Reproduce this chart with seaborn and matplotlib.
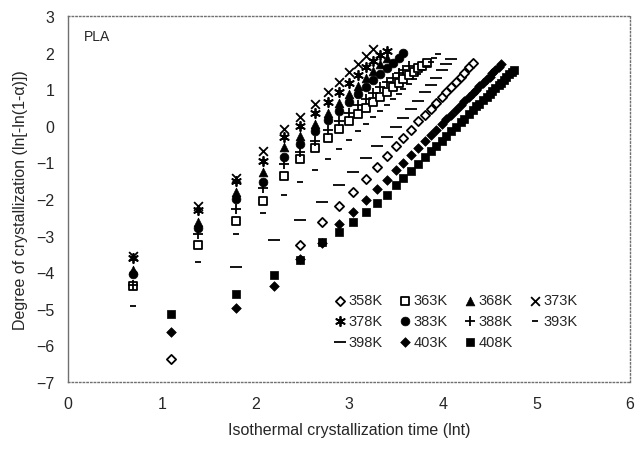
import matplotlib
matplotlib.use("Agg")
import matplotlib.pyplot as plt
import seaborn as sns

# ln(t) positions, t = 2, 4, 6 ... and t = 3, 6, 9 ...
x_even = [0.69, 1.39, 1.79, 2.08, 2.30, 2.48, 2.64, 2.77, 2.89, 3.00, 3.09, 3.18, 3.26,
          3.33, 3.40, 3.47, 3.53, 3.58, 3.64, 3.69, 3.74, 3.78, 3.83, 3.87, 3.91, 3.95]
x_three = [1.10, 1.79, 2.20, 2.48, 2.71, 2.89, 3.04, 3.18, 3.30, 3.40, 3.50, 3.58, 3.66,
           3.74, 3.81, 3.87, 3.93, 3.99, 4.04, 4.09, 4.14, 4.19, 4.23, 4.28, 4.32, 4.36,
           4.39, 4.43, 4.47, 4.50, 4.53, 4.56, 4.60, 4.62, 4.65, 4.68, 4.71, 4.74, 4.76]

y_358 = [-6.37, -3.26, -2.63, -2.18, -1.82, -1.45, -1.13, -0.82, -0.55, -0.32, -0.10, 0.12,
         0.30, 0.47, 0.63, 0.79, 0.93, 1.07, 1.20, 1.33, 1.45, 1.60, 1.73]
x_358 = [1.10] + x_three[3:25]
y_363 = [-4.38, -3.25, -2.60, -2.05, -1.37, -0.91, -0.60, -0.32, -0.08, 0.14, 0.33, 0.50,
         0.66, 0.80, 0.94, 1.06, 1.18, 1.28, 1.38, 1.48, 1.57, 1.65, 1.73]
y_368 = [-3.95, -2.62, -1.80, -1.27, -0.58, -0.28, 0.05, 0.35, 0.62, 0.88, 1.10, 1.30,
         1.50, 1.68, 1.85]
y_373 = [-3.55, -2.20, -1.42, -0.68, -0.09, 0.24, 0.60, 0.92, 1.20, 1.46, 1.68, 1.90, 2.10]
y_378 = [-3.62, -2.30, -1.50, -0.95, -0.31, 0.00, 0.35, 0.66, 0.93, 1.18, 1.40, 1.60,
         1.78, 1.93, 2.05]
y_383 = [-4.05, -2.78, -2.00, -1.54, -0.85, -0.50, -0.15, 0.15, 0.42, 0.66, 0.88, 1.07,
         1.25, 1.42, 1.57, 1.72, 1.86, 1.99]
y_388 = [-4.35, -2.95, -2.27, -1.70, -1.04, -0.72, -0.40, -0.12, 0.13, 0.36, 0.56, 0.74,
         0.90, 1.05, 1.19, 1.32, 1.44, 1.54, 1.64]
y_393 = [-4.92, -3.72, -2.96, -2.39, -1.89, -1.54, -1.20, -0.90, -0.62, -0.38, -0.15, 0.05,
         0.24, 0.41, 0.58, 0.73, 0.88, 1.02, 1.15, 1.28, 1.41, 1.53, 1.65, 1.76, 1.86, 1.96]
y_398 = [-3.86, -3.12, -2.57, -2.08, -1.62, -1.25, -0.88, -0.56, -0.30, -0.02, 0.22, 0.45,
         0.68, 0.92, 1.12, 1.32, 1.52, 1.68, 1.83]
y_403 = [-5.63, -4.98, -4.37, -3.64, -3.20, -2.68, -2.35, -2.03, -1.73, -1.47, -1.22, -1.01,
         -0.80, -0.60, -0.42, -0.26, -0.10, 0.05, 0.18, 0.31, 0.44, 0.56, 0.67, 0.79, 0.89,
         0.99, 1.08, 1.18, 1.27, 1.35, 1.44, 1.52, 1.60, 1.68]
y_408 = [-5.14, -4.60, -4.08, -3.66, -3.17, -2.90, -2.62, -2.36, -2.10, -1.88, -1.63, -1.43,
         -1.23, -1.03, -0.85, -0.70, -0.55, -0.40, -0.27, -0.15, -0.02, 0.10, 0.20, 0.33,
         0.43, 0.53, 0.60, 0.70, 0.80, 0.88, 0.95, 1.03, 1.13, 1.18, 1.26, 1.33, 1.41, 1.48, 1.53]

series = [
    ("358K", x_358, y_358),
    ("363K", x_even, y_363),
    ("368K", x_even, y_368),
    ("373K", x_even, y_373),
    ("378K", x_even, y_378),
    ("383K", x_even, y_383),
    ("388K", x_even, y_388),
    ("393K", x_even, y_393),
    ("398K", x_three[1:], y_398),
    ("403K", x_three, y_403),
    ("408K", x_three, y_408),
]

# marker, size, filled
styles = {
    "358K": ("D", 22, False),
    "363K": ("s", 40, False),
    "368K": ("^", 40, True),
    "373K": ("x", 40, None),
    "378K": ((6, 2, 0), 45, None),
    "383K": ("o", 40, True),
    "388K": ("+", 55, None),
    "393K": ("_", 25, None),
    "398K": ("_", 70, None),
    "403K": ("D", 24, True),
    "408K": ("s", 40, True),
}

sns.set_style("white")
plt.rcParams["font.family"] = ["Liberation Sans", "DejaVu Sans"]

fig = plt.figure(figsize=(6.37, 4.52), dpi=100)
ax = fig.add_axes([0.107, 0.153, 0.882, 0.809])

for name, xs, ys in series:
    mk, sz, filled = styles[name]
    n = len(ys)
    kw = dict(x=xs[:n], y=ys, ax=ax, marker=mk, s=sz, label=name)
    if filled is None:
        kw.update(color="black", linewidth=1.3)
    elif filled:
        kw.update(color="black", edgecolor="black", linewidth=0.5)
    else:
        kw.update(facecolor="white", edgecolor="black", linewidth=1.3)
    sns.scatterplot(**kw)

ax.set_xlim(0, 6)
ax.set_ylim(-7, 3)
ax.set_xticks(range(0, 7))
ax.set_yticks(range(-7, 4))
ax.set_xlabel("Isothermal crystallization time (lnt)", fontsize=11.5, labelpad=8)
ax.set_ylabel("Degree of crystallization (ln[-ln(1-\u03b1)])", fontsize=11.5, labelpad=6)
ax.tick_params(axis="both", direction="out", length=4, color="#808080",
               labelsize=11.5, pad=6)

for side in ["top", "right", "bottom"]:
    ax.spines[side].set_linestyle(":")
    ax.spines[side].set_color("#707070")
    ax.spines[side].set_linewidth(1.0)
ax.spines["left"].set_color("#707070")
ax.spines["left"].set_linewidth(1.0)

ax.text(0.17, 2.45, "PLA", fontsize=10, va="center", ha="left")

handles, labels = ax.get_legend_handles_labels()
lookup = dict(zip(labels, handles))
order = ["358K", "378K", "398K", "363K", "383K", "403K", "368K", "388K", "408K", "373K", "393K"]
ax.legend([lookup[k] for k in order], order, ncol=4, loc="lower left",
          bbox_to_anchor=(0.445, 0.055), frameon=False, fontsize=10.5,
          handletextpad=0.0, columnspacing=0.9, labelspacing=0.45, handlelength=1.2)

fig.savefig("out.png", dpi=100)
